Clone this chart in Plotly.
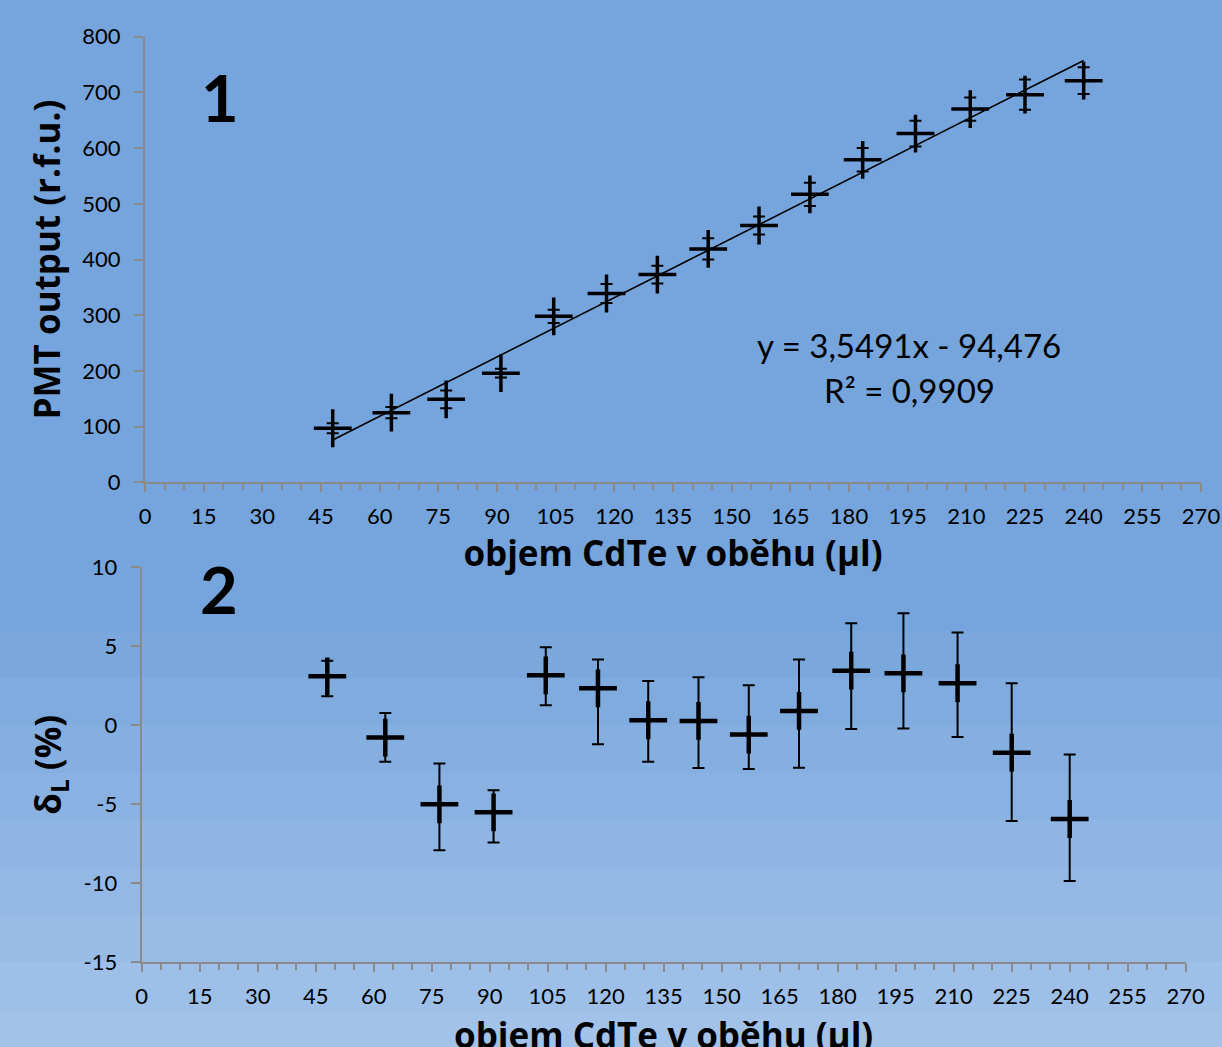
import plotly.graph_objects as go

# ---------------- data ----------------
volume_ul = [48, 63, 77, 91, 104.5, 118, 131, 144, 157, 170, 183.5, 197, 211, 225, 240]
pmt_output = [97, 125, 149, 196, 298, 339, 373, 419, 461, 517, 579, 626, 670, 696, 721]
pmt_error = [9, 10, 16, 8, 12, 17, 16, 19, 16, 21, 21, 23, 21, 27, 24]

delta_L = [3.10, -0.78, -5.00, -5.51, 3.16, 2.34, 0.32, 0.28, -0.59, 0.91, 3.46, 3.29, 2.66, -1.73, -5.93]
delta_err_plus = [0.99, 1.56, 2.59, 1.40, 1.78, 1.82, 2.48, 2.76, 3.12, 3.25, 3.00, 3.80, 3.21, 4.39, 4.08]
delta_err_minus = [1.26, 1.52, 2.91, 1.91, 1.89, 3.54, 2.62, 2.98, 2.18, 3.59, 3.69, 3.50, 3.40, 4.33, 3.92]

fit_slope = 3.5491
fit_intercept = -94.476
equation_text = "y = 3,5491x - 94,476"
r2_text = "R² = 0,9909"

x_tick_vals = list(range(0, 271, 15))
y1_tick_vals = [0, 100, 200, 300, 400, 500, 600, 700, 800]
y2_tick_vals = [-15, -10, -5, 0, 5, 10]
y2_tick_text = ["-15", "-10", "-5", "0", "5", "10"]

x_title = "objem CdTe v oběhu (µl)"
y1_title = "PMT output (r.f.u.)"
y2_title = "δ<sub>L</sub> (%)"
panel_labels = ["1", "2"]

# ---------------- styling ----------------
W, H = 1222, 1047
FONT = "Lato"
TFONT = "Open Sans"
AX = "#8a8a8a"

def px_x(p):
    return p / W

def px_y(p):
    return 1 - p / H

top_xdom = [px_x(145), px_x(1201)]
top_ydom = [px_y(482.3), px_y(36.7)]
bot_xdom = [px_x(141.7), px_x(1185.7)]
bot_ydom = [px_y(962.3), px_y(567.3)]

fig = go.Figure()

# fit line (drawn first, under markers)
x_fit = [min(volume_ul), max(volume_ul)]
y_fit = [fit_slope * v + fit_intercept for v in x_fit]
fig.add_trace(go.Scatter(x=x_fit, y=y_fit, mode="lines",
                         line=dict(color="black", width=1.6),
                         xaxis="x", yaxis="y", showlegend=False, hoverinfo="skip"))

fig.add_trace(go.Scatter(
    x=volume_ul, y=pmt_output, mode="markers",
    marker=dict(symbol="cross-thin", size=27, line=dict(width=3.5, color="black"), color="black"),
    error_y=dict(type="data", array=pmt_error, color="black", thickness=2, width=6),
    xaxis="x", yaxis="y", showlegend=False))

fig.add_trace(go.Scatter(
    x=volume_ul, y=delta_L, mode="markers",
    marker=dict(symbol="cross-thin", size=27, line=dict(width=4.5, color="black"), color="black"),
    error_y=dict(type="data", symmetric=False, array=delta_err_plus, arrayminus=delta_err_minus,
                 color="black", thickness=2, width=6),
    xaxis="x2", yaxis="y2", showlegend=False))

tickfont = dict(family=FONT, size=22, color="black")
titlefont = dict(family=TFONT, size=35, color="black", weight="bold")

def xaxis_cfg(dom, anchor, title):
    return dict(domain=dom, anchor=anchor, range=[0, 270], automargin=False,
                tickmode="array", tickvals=x_tick_vals,
                ticks="outside", ticklen=8, tickwidth=2, tickcolor=AX,
                showline=True, linecolor=AX, linewidth=2,
                showgrid=False, zeroline=False, tickfont=tickfont,
                ticklabelstandoff=5,
                minor=dict(dtick=5, tick0=0, ticks="outside", ticklen=6, tickwidth=2, tickcolor=AX),
                title=dict(text=title, font=titlefont, standoff=12))

def xaxis_inner(dom, anchor, over):
    return dict(domain=dom, anchor=anchor, overlaying=over, range=[0, 270], automargin=False,
                tickmode="array", tickvals=x_tick_vals,
                ticks="inside", ticklen=8, tickwidth=2, tickcolor=AX,
                showline=False, showgrid=False, zeroline=False, showticklabels=False)

def yaxis_cfg(dom, anchor, rng, tickvals, ticktext, title, standoff):
    return dict(domain=dom, anchor=anchor, range=rng, automargin=False,
                tickmode="array", tickvals=tickvals, ticktext=ticktext,
                ticks="outside", ticklen=9, tickwidth=2, tickcolor=AX,
                showline=True, linecolor=AX, linewidth=2,
                showgrid=False, zeroline=False, tickfont=tickfont,
                ticklabelstandoff=9,
                title=dict(text=title, font=titlefont, standoff=standoff))

# background bands (gradient)
bg_top = (117, 165, 220)
bg_bottom = (162, 194, 233)
band_edges = [0, 631, 678, 725, 773, 820, 868, 915, 962, 1010, 1047]
nb = len(band_edges) - 1
shapes = []
for i in range(nb):
    t = i / (nb - 1)
    c = tuple(round(bg_top[k] + (bg_bottom[k] - bg_top[k]) * t) for k in range(3))
    shapes.append(dict(type="rect", xref="paper", yref="paper", x0=0, x1=1,
                       y0=px_y(band_edges[i + 1]), y1=px_y(band_edges[i]),
                       fillcolor="rgb(%d,%d,%d)" % c, line=dict(width=0), layer="below"))

annotations = [
    dict(text="<b>%s</b>" % panel_labels[0], xref="paper", yref="paper", x=px_x(220), y=px_y(97),
         xanchor="center", yanchor="middle", showarrow=False, font=dict(family=FONT, size=65, color="black")),
    dict(text="<b>%s</b>" % panel_labels[1], xref="paper", yref="paper", x=px_x(218.5), y=px_y(589),
         xanchor="center", yanchor="middle", showarrow=False, font=dict(family=FONT, size=65, color="black")),
    dict(text=equation_text, xref="paper", yref="paper", x=px_x(909), y=px_y(345),
         xanchor="center", yanchor="middle", showarrow=False, font=dict(family=FONT, size=33, color="black")),
    dict(text=r2_text, xref="paper", yref="paper", x=px_x(909), y=px_y(390),
         xanchor="center", yanchor="middle", showarrow=False, font=dict(family=FONT, size=33, color="black")),
    # x title of the lower panel (runs off the bottom edge as in the original)
    dict(text=x_title, xref="paper", yref="paper", x=(bot_xdom[0] + bot_xdom[1]) / 2, y=px_y(1034),
         xanchor="center", yanchor="middle", showarrow=False, font=titlefont),
]

fig.update_layout(
    width=W, height=H, autosize=False,
    margin=dict(l=0, r=0, t=0, b=0, autoexpand=False),
    paper_bgcolor="rgb(%d,%d,%d)" % bg_top,
    plot_bgcolor="rgba(0,0,0,0)",
    showlegend=False,
    xaxis=xaxis_cfg(top_xdom, "y", x_title),
    yaxis=yaxis_cfg(top_ydom, "x", [0, 800], y1_tick_vals, [str(v) for v in y1_tick_vals], y1_title, 11),
    xaxis2=xaxis_cfg(bot_xdom, "y2", None),
    yaxis2=yaxis_cfg(bot_ydom, "x2", [-15, 10], y2_tick_vals, y2_tick_text, y2_title, 11),
    xaxis3=xaxis_inner(top_xdom, "y", "x"),
    xaxis4=xaxis_inner(bot_xdom, "y2", "x2"),
    shapes=shapes,
    annotations=annotations,
)

fig.write_html("out.html",
               config={"displayModeBar": False, "responsive": False},
               post_script="document.body.style.margin='0';document.body.style.overflow='hidden';")
